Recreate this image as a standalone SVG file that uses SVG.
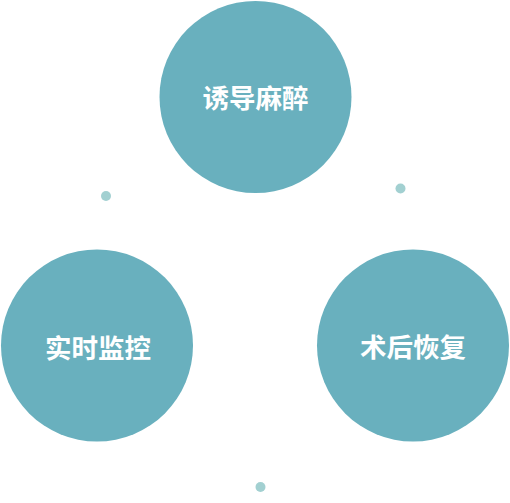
<svg xmlns="http://www.w3.org/2000/svg" width="510" height="503" viewBox="0 0 510 503">
<style>
.node{fill:#69B0BE}
.dot{fill:#A2D0D1}
.label{fill:#fff;font-family:"Noto Sans CJK SC","Noto Sans",sans-serif;font-size:26.5px;font-weight:bold;text-anchor:middle;dominant-baseline:central}
</style>
<rect width="510" height="503" fill="#fff"/>
<g id="connectors">
<circle class="dot" cx="106" cy="196" r="5"/>
<circle class="dot" cx="400.5" cy="188.5" r="5"/>
<circle class="dot" cx="260.5" cy="487" r="5"/>
</g>
<g id="node-induction">
<circle class="node" cx="255.5" cy="97" r="96"/>
<text class="label" x="255.5" y="96">诱导麻醉</text>
</g>
<g id="node-monitoring">
<circle class="node" cx="97" cy="345.5" r="96"/>
<text class="label" x="98" y="346">实时监控</text>
</g>
<g id="node-recovery">
<circle class="node" cx="413" cy="345.5" r="96"/>
<text class="label" x="413" y="345">术后恢复</text>
</g>
</svg>
